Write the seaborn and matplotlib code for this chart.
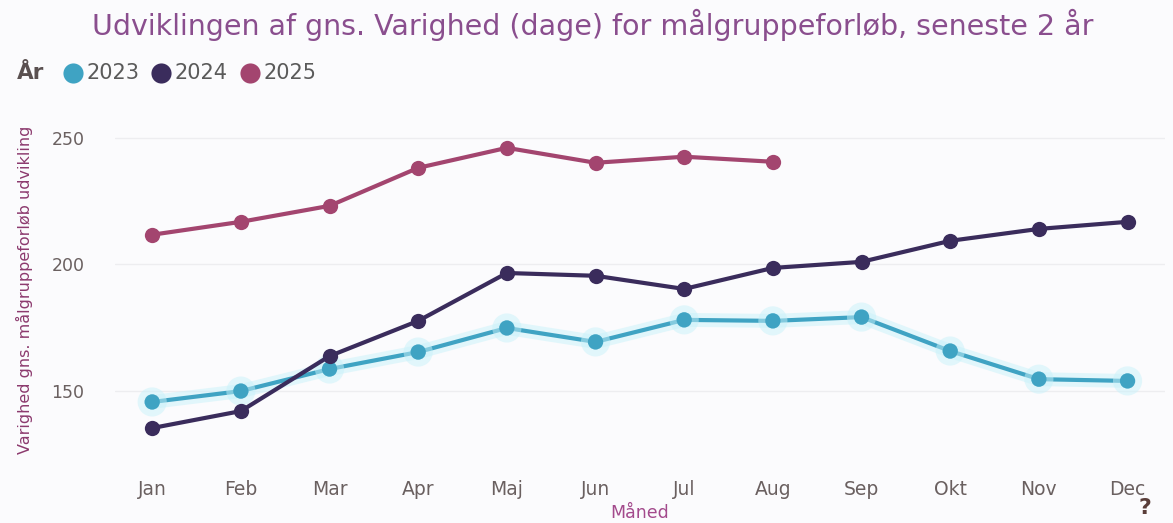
import pandas as pd
import matplotlib.pyplot as plt
import matplotlib.patheffects as pe
import seaborn as sns

# ── data ─────────────────────────────────────────────────────────────────────
months = ['Jan', 'Feb', 'Mar', 'Apr', 'Maj', 'Jun', 'Jul', 'Aug', 'Sep', 'Okt', 'Nov', 'Dec']
v2023 = [145.7, 150.0, 158.7, 165.4, 174.9, 169.4, 178.1, 177.7, 179.2, 165.8, 154.7, 154.0]
v2024 = [135.4, 142.1, 163.8, 177.7, 196.6, 195.5, 190.3, 198.6, 201.0, 209.3, 214.0, 216.8]
v2025 = [211.7, 216.8, 223.1, 238.1, 246.0, 240.1, 242.5, 240.5]
years = ['2023', '2024', '2025']
colors = ['#3FA3C3', '#3A2C5C', '#A3456F']

rows = []
for yr, vals in zip(years, [v2023, v2024, v2025]):
    for i, v in enumerate(vals):
        rows.append({'Måned': i, 'Varighed': v, 'År': yr})
df = pd.DataFrame(rows)

# ── plot ─────────────────────────────────────────────────────────────────────
sns.set_theme(style='white')
plt.rcParams['font.family'] = ['DejaVu Sans']

fig = plt.figure(figsize=(11.73, 5.23), dpi=100, facecolor='#FBFBFD')
ax = fig.add_axes([0.098, 0.12, 0.895, 0.67])
ax.set_facecolor('#FBFBFD')

sns.lineplot(data=df, x='Måned', y='Varighed', hue='År', hue_order=years,
             palette=dict(zip(years, colors)), marker='o', markersize=11,
             markeredgewidth=0, linewidth=3, legend=False, ax=ax)

# soft glow on the 2023 line
for line in ax.get_lines():
    if line.get_color().lower() == colors[0].lower():
        line.set_path_effects([pe.Stroke(linewidth=10, foreground='#C8F2FA', alpha=0.5),
                               pe.Normal()])

ax.set_xlim(-0.42, 11.42)
ax.set_ylim(122.7, 261)
ax.set_xticks(range(12))
ax.set_xticklabels(months)
ax.set_yticks([150, 200, 250])
ax.tick_params(axis='both', length=0, labelcolor='#6A6060')
ax.tick_params(axis='y', pad=22, labelsize=12.5)
ax.tick_params(axis='x', pad=14, labelsize=13.5)
ax.grid(axis='y', color='#EDEDF0', linewidth=1)
sns.despine(ax=ax, left=True, bottom=True)

ax.set_ylabel('')
ax.set_xlabel('Måned', fontsize=12.5, color='#A34A8C', labelpad=4)
fig.text(0.021, 0.445, 'Varighed gns. målgruppeforløb udvikling', rotation=90,
         ha='center', va='center', fontsize=11.5, color='#8C3A6E')

fig.text(0.505, 0.952, 'Udviklingen af gns. Varighed (dage) for målgruppeforløb, seneste 2 år',
         ha='center', va='center', fontsize=20.5, color='#8A4E8E')

# legend row
fig.text(0.014, 0.860, 'År', ha='left', va='center', fontsize=15.5,
         fontweight='bold', color='#5A5050')
lx = [0.0622, 0.137, 0.213]
for x, yr, c in zip(lx, years, colors):
    fig.lines.append(plt.Line2D([x], [0.860], marker='o', markersize=14.5,
                                color=c, markeredgewidth=0, transform=fig.transFigure))
    fig.text(x + 0.0115, 0.860, yr, ha='left', va='center', fontsize=15, color='#5A5A5A')

fig.text(0.976, 0.028, '?', ha='center', va='center', fontsize=16,
         fontweight='bold', color='#5A3E3A')

plt.savefig('out.png', dpi=100, facecolor=fig.get_facecolor())
